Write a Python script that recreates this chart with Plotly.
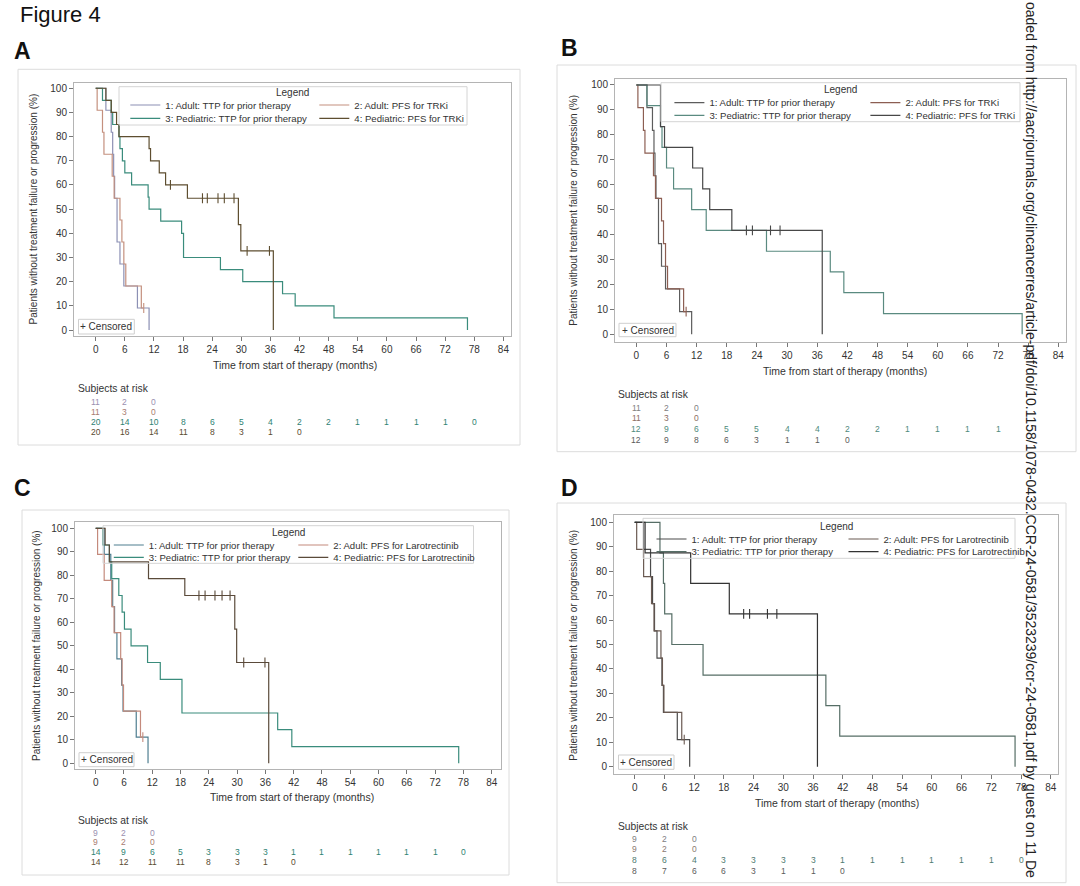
import plotly.graph_objects as go

# ---------------- DATA ----------------
risk_times = [0, 6, 12, 18, 24, 30, 36, 42, 48, 54, 60, 66, 72, 78]
x_ticks = [0, 6, 12, 18, 24, 30, 36, 42, 48, 54, 60, 66, 72, 78, 84]
y_ticks = [0, 10, 20, 30, 40, 50, 60, 70, 80, 90, 100]

# Adults, all patients (panels A, B)
adult_ttp_all_t = [0, 2.1, 3.2, 3.5, 3.7, 3.9, 4.4, 5.0, 5.8, 8.6, 11.0]
adult_ttp_all_s = [100, 90.9, 81.8, 72.7, 63.6, 54.5, 36.4, 27.3, 18.2, 9.1, 0]
adult_ttp_all_cens = []
adult_pfs_all_t = [0, 0.3, 1.4, 1.7, 3.4, 3.8, 5.0, 5.4, 5.8, 6.2, 9.4]
adult_pfs_all_s = [100, 90.9, 81.8, 72.7, 63.6, 54.5, 45.5, 36.4, 27.3, 18.2, 9.1]
adult_pfs_all_cens = [9.9]

# Pediatric, panel A
ped_ttp_a_t = [0, 1.4, 3.2, 3.5, 4.8, 5.0, 5.5, 6.0, 7.4, 10.8, 11.0, 13.4, 17.7, 18.1, 25.7, 30.3, 38.5, 41.1, 49.1, 76.6]
ped_ttp_a_s = [100, 95, 90, 85, 80, 75, 70, 65, 60, 55, 50, 45, 40, 30, 25, 20, 15, 10, 5, 0]
ped_ttp_a_cens = []
ped_pfs_a_t = [0, 2.1, 3.2, 4.3, 4.8, 11.0, 11.3, 13.1, 14.4, 18.9, 29.4, 29.9, 36.6]
ped_pfs_a_s = [100, 95, 90, 85, 80, 75, 70, 65, 60, 54.5, 43.6, 32.7, 0]
ped_pfs_a_cens = [15.4, 22.0, 23.0, 25.2, 26.5, 28.5, 31.2, 35.8]

# Pediatric, panel B
ped_ttp_b_t = [0, 2.1, 4.8, 5.1, 6.0, 7.4, 11.0, 13.9, 25.9, 38.6, 41.3, 49.2, 76.8]
ped_ttp_b_s = [100, 91.7, 83.3, 75, 66.7, 58.3, 50, 41.7, 33.3, 25, 16.7, 8.3, 0]
ped_ttp_b_cens = []
ped_pfs_b_t = [0, 4.8, 5.6, 11.2, 13.2, 14.6, 19.0, 37.0]
ped_pfs_b_s = [100, 83.3, 75, 66.7, 58.3, 50, 41.7, 0]
ped_pfs_b_cens = [21.9, 23.1, 26.7, 28.6]

# Adults, larotrectinib subset (panels C, D)
adult_ttp_laro_t = [0, 1.8, 3.2, 3.6, 4.0, 4.5, 5.5, 5.8, 8.6, 11.1]
adult_ttp_laro_s = [100, 88.9, 77.8, 66.7, 55.6, 44.4, 33.3, 22.2, 11.1, 0]
adult_ttp_laro_cens = []
adult_pfs_laro_t = [0, 0.4, 1.8, 3.4, 3.9, 5.3, 5.6, 5.9, 9.5]
adult_pfs_laro_s = [100, 88.9, 77.8, 66.7, 55.6, 44.4, 33.3, 22.2, 11.1]
adult_pfs_laro_cens = [10.0]

# Pediatric, panel C
ped_ttp_c_t = [0, 1.5, 2.9, 3.4, 4.9, 5.6, 6.1, 7.5, 11.0, 13.7, 18.3, 38.6, 41.6, 77.0]
ped_ttp_c_s = [100, 92.9, 85.7, 78.6, 71.4, 64.3, 57.1, 50, 42.9, 35.7, 21.4, 14.3, 7.1, 0]
ped_ttp_c_cens = []
ped_pfs_c_t = [0, 2.0, 2.9, 11.2, 18.9, 29.5, 29.9, 36.7]
ped_pfs_c_s = [100, 92.9, 85.7, 78.6, 71.4, 57.1, 42.9, 0]
ped_pfs_c_cens = [21.9, 23.2, 25.3, 26.8, 28.5, 31.4, 35.9]

# Pediatric, panel D
ped_ttp_d_t = [0, 5.1, 5.8, 6.05, 7.5, 13.8, 38.6, 41.4, 76.8]
ped_ttp_d_s = [100, 87.5, 75, 62.5, 50, 37.5, 25, 12.5, 0]
ped_ttp_d_cens = []
ped_pfs_d_t = [0, 2.1, 11.3, 19.1, 36.9]
ped_pfs_d_s = [100, 87.5, 75, 62.5, 0]
ped_pfs_d_cens = [22.0, 23.2, 26.8, 28.7]

# Subjects at risk
risk_a = [[11, 2, 0], [11, 3, 0],
          [20, 14, 10, 8, 6, 5, 4, 2, 2, 1, 1, 1, 1, 0],
          [20, 16, 14, 11, 8, 3, 1, 0]]
risk_b = [[11, 2, 0], [11, 3, 0],
          [12, 9, 6, 5, 5, 4, 4, 2, 2, 1, 1, 1, 1],
          [12, 9, 8, 6, 3, 1, 1, 0]]
risk_c = [[9, 2, 0], [9, 2, 0],
          [14, 9, 6, 5, 3, 3, 3, 1, 1, 1, 1, 1, 1, 0],
          [14, 12, 11, 11, 8, 3, 1, 0]]
risk_d = [[9, 2, 0], [9, 2, 0],
          [8, 6, 4, 3, 3, 3, 3, 1, 1, 1, 1, 1, 1, 0],
          [8, 7, 6, 6, 3, 1, 1, 0]]

names_trki = ["1: Adult: TTP for prior therapy", "2: Adult: PFS for TRKi",
              "3: Pediatric: TTP for prior therapy", "4: Pediatric: PFS for TRKi"]
names_laro = ["1: Adult: TTP for prior therapy", "2: Adult: PFS for Larotrectinib",
              "3: Pediatric: TTP for prior therapy", "4: Pediatric: PFS for Larotrectinib"]

y_title = "Patients without treatment failure or progression (%)"
x_title = "Time from start of therapy (months)"
watermark = ("oaded from http://aacrjournals.org/clincancerres/article-pdf/doi/10.1158/"
             "1078-0432.CCR-24-0581/3523239/ccr-24-0581.pdf by guest on 11 De")

# ---------------- LAYOUT / STYLE ----------------
W, H = 1080, 886
FONT = "Arial, 'Liberation Sans', sans-serif"


def fx(p):
    return p / W


def fy(p):
    return 1 - p / H


panels = [
    dict(letter="A", letter_xy=(12, 51.5), box=(18, 69.3, 520, 445),
         frame=(74, 82.7, 511, 336), xr=[-4.47, 85.57], yr=[-2.48, 102.3],
         series=[(adult_ttp_all_t, adult_ttp_all_s, adult_ttp_all_cens),
                 (adult_pfs_all_t, adult_pfs_all_s, adult_pfs_all_cens),
                 (ped_ttp_a_t, ped_ttp_a_s, ped_ttp_a_cens),
                 (ped_pfs_a_t, ped_pfs_a_s, ped_pfs_a_cens)],
         names=names_trki, risk=risk_a,
         colors=["#8c90b4", "#c4907e", "#3a8c7c", "#5e4e30"],
         risk_colors=["#9a90b0", "#a87c70", "#2e8272", "#5a4a30"],
         legend_title=(292.7, 92.7), legend_rows=(105, 118.3), legend_text_x=165.3, entry=144,
         legend_box=(119, 86.7, 467, 125), cens_box=(78.5, 319.3, 134.3, 334),
         ytitle_x=34.4, ytitle_y=209, xtitle=(295, 365),
         risk_label=(76.4, 388.3), risk_rows=[401.7, 411.7, 421.7, 431.7]),
    dict(letter="B", letter_xy=(559, 48), box=(557, 65, 1076, 451.7),
         frame=(615, 79, 1065.8, 341.7), xr=[-4.26, 85.49], yr=[-2.97, 102.4],
         series=[(adult_ttp_all_t, adult_ttp_all_s, adult_ttp_all_cens),
                 (adult_pfs_all_t, adult_pfs_all_s, adult_pfs_all_cens),
                 (ped_ttp_b_t, ped_ttp_b_s, ped_ttp_b_cens),
                 (ped_pfs_b_t, ped_pfs_b_s, ped_pfs_b_cens)],
         names=names_trki, risk=risk_b,
         colors=["#5c5c5c", "#8c5e52", "#5a8a80", "#474747"],
         risk_colors=["#808080", "#8c6e64", "#4e8a7c", "#5a5a5a"],
         legend_title=(840, 89.3), legend_rows=(102.7, 115.3), legend_text_x=709.4, entry=151,
         legend_box=(661, 82.7, 1020, 121.7), cens_box=(619, 323.3, 676, 336.7),
         ytitle_x=572.7, ytitle_y=210, xtitle=(845, 371),
         risk_label=(616.4, 395), risk_rows=[408.3, 418.3, 429.3, 440]),
    dict(letter="C", letter_xy=(12, 488.3), box=(22, 510, 509, 875),
         frame=(75, 522.3, 501, 769.3), xr=[-4.39, 85.97], yr=[-2.55, 102.55],
         series=[(adult_ttp_laro_t, adult_ttp_laro_s, adult_ttp_laro_cens),
                 (adult_pfs_laro_t, adult_pfs_laro_s, adult_pfs_laro_cens),
                 (ped_ttp_c_t, ped_ttp_c_s, ped_ttp_c_cens),
                 (ped_pfs_c_t, ped_pfs_c_s, ped_pfs_c_cens)],
         names=names_laro, risk=risk_c,
         colors=["#4e7e90", "#c48a7c", "#3a8c7c", "#5a4a3a"],
         risk_colors=["#9a90b0", "#a87c70", "#2e8272", "#5a4a30"],
         legend_title=(288.6, 532.7), legend_rows=(545, 557.3), legend_text_x=148.8, entry=139.5,
         legend_box=(103, 525.7, 473.5, 563.3), cens_box=(79, 752.7, 134, 766.7),
         ytitle_x=36, ytitle_y=646, xtitle=(292, 796.7),
         risk_label=(76.4, 820.7), risk_rows=[832.7, 842.3, 852.3, 862.3]),
    dict(letter="D", letter_xy=(559, 488.3), box=(557, 503, 1066, 882.7),
         frame=(614, 515, 1058, 774), xr=[-4.18, 85.47], yr=[-2.99, 102.99],
         series=[(adult_ttp_laro_t, adult_ttp_laro_s, adult_ttp_laro_cens),
                 (adult_pfs_laro_t, adult_pfs_laro_s, adult_pfs_laro_cens),
                 (ped_ttp_d_t, ped_ttp_d_s, ped_ttp_d_cens),
                 (ped_pfs_d_t, ped_pfs_d_s, ped_pfs_d_cens)],
         names=names_laro, risk=risk_d,
         colors=["#4a4a4a", "#6a5a52", "#566e66", "#333333"],
         risk_colors=["#808080", "#8c7a70", "#4e7a70", "#5a5a5a"],
         legend_title=(836, 526), legend_rows=(539, 551.7), legend_text_x=691.5, entry=147,
         legend_box=(643, 518.3, 1015, 558.3), cens_box=(618.5, 755, 674, 769.3),
         ytitle_x=572.7, ytitle_y=645, xtitle=(837, 803.3),
         risk_label=(615.8, 826.7), risk_rows=[839.3, 849.3, 860, 870.7]),
]


def step_xy(t, s, cens):
    x = list(t)
    y = list(s)
    if cens and max(cens) > x[-1]:
        x.append(max(cens))
        y.append(y[-1])
    return x, y


def level_at(t, s, c):
    val = s[0]
    for ti, si in zip(t, s):
        if ti <= c:
            val = si
    return val


def note(x, y, text, size, color="#333", xanchor="center", yanchor="middle",
         xref="paper", angle=0):
    return dict(x=x, y=y, xref=xref, yref="paper", text=text, showarrow=False,
                xanchor=xanchor, yanchor=yanchor, textangle=angle,
                font=dict(family=FONT, size=size, color=color))


fig = go.Figure()
shapes = []
annotations = []
layout_axes = {}
legends = {}

for i, p in enumerate(panels):
    k = i + 1
    xa = "x" if k == 1 else f"x{k}"
    ya = "y" if k == 1 else f"y{k}"
    leg_top = "legend" if k == 1 else f"legend{2 * k - 1}"
    leg_bot = f"legend{2 * k}"
    x0, y0, x1, y1 = p["frame"]

    for j, (t, s, cens) in enumerate(p["series"]):
        col = p["colors"][j]
        lx, ly = step_xy(t, s, cens)
        fig.add_trace(go.Scatter(
            x=lx, y=ly, mode="lines", line=dict(shape="hv", color=col, width=1.2),
            name=p["names"][j], xaxis=xa, yaxis=ya,
            legend=leg_top if j in (0, 1) else leg_bot, showlegend=True,
            hoverinfo="skip"))
        if cens:
            fig.add_trace(go.Scatter(
                x=cens, y=[level_at(t, s, c) for c in cens], mode="markers",
                marker=dict(symbol="line-ns-open", size=7, color=col,
                            line=dict(color=col, width=1.1)),
                xaxis=xa, yaxis=ya, showlegend=False, hoverinfo="skip"))

    axis_common = dict(showgrid=False, zeroline=False, showline=True, mirror=True,
                       linecolor="#b4b4b4", linewidth=1, ticks="outside", ticklen=4,
                       tickcolor="#777", tickfont=dict(family=FONT, size=10, color="#333"))
    layout_axes["xaxis" if k == 1 else f"xaxis{k}"] = dict(
        domain=[fx(x0), fx(x1)], range=p["xr"], tickvals=x_ticks, anchor=ya, **axis_common)
    layout_axes["yaxis" if k == 1 else f"yaxis{k}"] = dict(
        domain=[fy(y1), fy(y0)], range=p["yr"], tickvals=y_ticks, anchor=xa, **axis_common)

    for name, row_y in ((leg_top, p["legend_rows"][0]), (leg_bot, p["legend_rows"][1])):
        legends[name] = dict(
            x=fx(p["legend_text_x"] - 40), y=fy(row_y), xanchor="left", yanchor="middle",
            orientation="h", entrywidth=p["entry"], entrywidthmode="pixels",
            bgcolor="rgba(0,0,0,0)", borderwidth=0, itemwidth=30,
            font=dict(family=FONT, size=9.6, color="#333"))

    # panel outer box
    bx0, by0, bx1, by1 = p["box"]
    shapes.append(dict(type="rect", xref="paper", yref="paper", x0=fx(bx0), x1=fx(bx1),
                       y0=fy(by1), y1=fy(by0), line=dict(color="#dcdcdc", width=1)))
    # legend box
    lx0, ly0, lx1, ly1 = p["legend_box"]
    shapes.append(dict(type="rect", xref="paper", yref="paper", x0=fx(lx0), x1=fx(lx1),
                       y0=fy(ly1), y1=fy(ly0), line=dict(color="#d4d4d4", width=1)))
    annotations.append(note(fx(p["legend_title"][0]), fy(p["legend_title"][1]), "Legend", 10))
    # censored box
    cx0, cy0, cx1, cy1 = p["cens_box"]
    shapes.append(dict(type="rect", xref="paper", yref="paper", x0=fx(cx0), x1=fx(cx1),
                       y0=fy(cy1), y1=fy(cy0), line=dict(color="#cfcfcf", width=1)))
    annotations.append(note(fx((cx0 + cx1) / 2), fy((cy0 + cy1) / 2), "+ Censored", 10))
    # axis titles
    annotations.append(note(fx(p["ytitle_x"]), fy(p["ytitle_y"]), y_title, 10, angle=-90))
    annotations.append(note(fx(p["xtitle"][0]), fy(p["xtitle"][1]), x_title, 10.5))
    # panel letter
    annotations.append(note(fx(p["letter_xy"][0]), fy(p["letter_xy"][1]),
                            f"<b>{p['letter']}</b>", 23, color="#111", xanchor="left"))
    # subjects at risk
    annotations.append(note(fx(p["risk_label"][0]), fy(p["risk_label"][1]),
                            "Subjects at risk", 10.3, xanchor="left"))
    for r, row in enumerate(p["risk"]):
        for tm, n in zip(risk_times, row):
            annotations.append(note(tm, fy(p["risk_rows"][r]), str(n), 8.5,
                                    color=p["risk_colors"][r], xref=xa))

annotations.append(note(fx(18), fy(15), "Figure 4", 22, color="#111", xanchor="left"))
annotations.append(note(fx(1031), 1, watermark, 14, color="#222", yanchor="top", angle=90))

fig.update_layout(width=W, height=H, margin=dict(l=0, r=0, t=0, b=0),
                  paper_bgcolor="white", plot_bgcolor="white",
                  shapes=shapes, annotations=annotations, **layout_axes, **legends)

fig.write_html("out.html", config={"displayModeBar": False},
               post_script="document.body.style.margin='0';document.body.style.overflow='hidden';")
